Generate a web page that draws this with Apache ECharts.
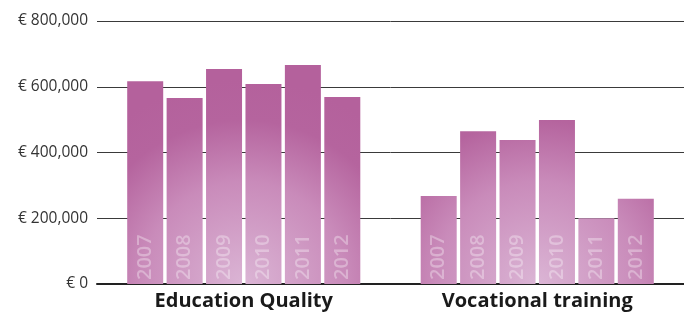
<!DOCTYPE html>
<html>
<head>
<meta charset="utf-8">
<script src="https://cdn.jsdelivr.net/npm/echarts@6/dist/echarts.min.js"></script>
<style>
  html, body { margin: 0; padding: 0; background: #fff; }
  #chart { width: 684px; height: 315px; }
</style>
</head>
<body>
<div id="chart"></div>
<script>
// categories and years
var categories = ['Education Quality', 'Vocational training'];
var years = ['2007', '2008', '2009', '2010', '2011', '2012'];
// values per group, in year order
var education = [617000, 566000, 654000, 608000, 666000, 569000];
var vocational = [268000, 465000, 438000, 499000, 200000, 259000];
// y axis ticks
var yTicks = [0, 200000, 400000, 600000, 800000];

var chart = echarts.init(document.getElementById('chart'));

// radial glow per group, centre filled in after the first layout
var centres = [[244, 284], [540, 284]];
function barColor(params) {
  var c = centres[params.dataIndex];
  return {
    type: 'radial', x: c[0], y: c[1], r: 205, global: true,
    colorStops: [
      {offset: 0, color: '#dbb5d5'},
      {offset: 0.5, color: '#c98bba'},
      {offset: 0.8, color: '#b5649e'},
      {offset: 1, color: '#b4619c'}
    ]
  };
}

var series = years.map(function (y, i) {
  return {
    name: y,
    type: 'bar',
    barWidth: 36,
    barGap: '9.5%',
    data: [education[i], vocational[i]],
    itemStyle: { color: barColor },
    label: {
      show: true,
      position: 'insideBottom',
      distance: 4,
      rotate: 90,
      align: 'left',
      verticalAlign: 'middle',
      formatter: '{a}',
      color: 'rgba(255,255,255,0.33)',
      fontSize: 20,
      fontFamily: 'Open Sans',
      fontWeight: 600
    }
  };
});

chart.setOption({
  animation: false,
  grid: { left: 97, right: -4, top: 21, bottom: 31 },
  xAxis: {
    type: 'category',
    data: categories,
    axisLine: { lineStyle: { color: '#222', width: 2 } },
    axisTick: { show: false },
    axisLabel: {
      margin: 7,
      color: '#1a1a1a',
      fontSize: 20,
      fontWeight: 'bold',
      fontFamily: 'Open Sans'
    }
  },
  yAxis: {
    type: 'value',
    min: yTicks[0],
    max: yTicks[yTicks.length - 1],
    interval: yTicks[1] - yTicks[0],
    axisLine: { show: false },
    axisTick: { show: false },
    splitLine: { lineStyle: { color: '#3a3a3a', width: 1 } },
    axisLabel: {
      margin: 9,
      color: '#333',
      fontSize: 15.5,
      fontFamily: 'Open Sans',
      formatter: function (v) { return '€ ' + v.toLocaleString('en-US'); }
    }
  },
  series: series
});

// put the glow at the bottom middle of each group
centres = categories.map(function (c) {
  return [chart.convertToPixel({xAxisIndex: 0}, c), chart.convertToPixel({yAxisIndex: 0}, 0)];
});
chart.setOption({ series: series });
</script>
</body>
</html>
